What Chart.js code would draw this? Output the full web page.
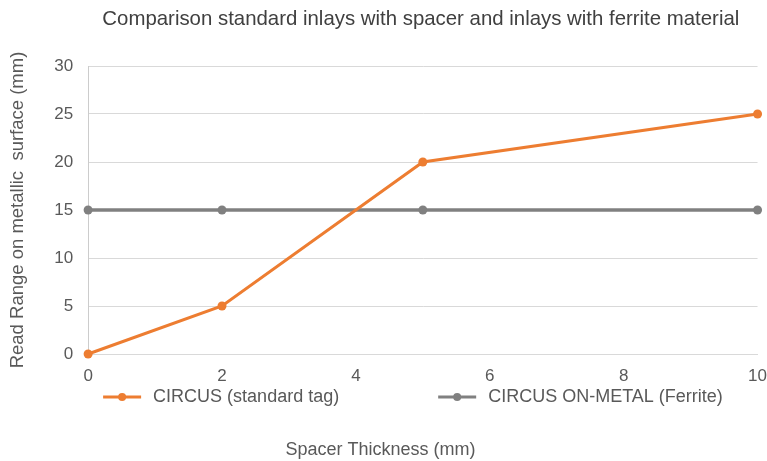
<!DOCTYPE html>
<html>
<head>
<meta charset="utf-8">
<script src="https://cdn.jsdelivr.net/npm/chart.js@4.4.0/dist/chart.umd.min.js"></script>
<style>
  html, body { margin: 0; padding: 0; background: #fff; }
  #wrap { width: 767px; height: 461px; }
</style>
</head>
<body>
<div id="wrap"><canvas id="chart"></canvas></div>
<script>
const chartTitle = 'Comparison standard inlays with spacer and inlays with ferrite material';
const xTitle = 'Spacer Thickness (mm)';
const yTitle = 'Read Range on metallic  surface (mm)';

const spacerThickness = [0, 2, 5, 10];
const standardTag = [0, 5, 20, 25];
const ferriteTag = [15, 15, 15, 15];

const seriesNames = ['CIRCUS (standard tag)', 'CIRCUS ON-METAL (Ferrite)'];
const seriesColors = ['#ed7d31', '#808080'];

const fontFamily = '"Liberation Sans", Arial, sans-serif';
const textColor = '#595959';

const toPoints = (values) => values.map((v, i) => ({ x: spacerThickness[i], y: v }));

// title over the plot, legend and x title underneath it
const textPlugin = {
  id: 'chartTexts',
  afterDraw(chart) {
    const { ctx, chartArea } = chart;
    ctx.save();
    ctx.textBaseline = 'middle';

    ctx.font = '20.4px ' + fontFamily;
    ctx.fillStyle = '#404040';
    ctx.textAlign = 'center';
    ctx.fillText(chartTitle, (chartArea.left + chartArea.right) / 2 - 2, 19);

    ctx.font = '18px ' + fontFamily;
    ctx.fillStyle = textColor;
    ctx.fillText(xTitle, chart.width / 2 - 3, 450);

    // legend row
    ctx.textAlign = 'left';
    const y = chartArea.bottom + 43;
    let x = chartArea.left + 15;
    chart.data.datasets.forEach((ds) => {
      ctx.strokeStyle = ds.borderColor;
      ctx.lineWidth = 3;
      ctx.beginPath();
      ctx.moveTo(x, y);
      ctx.lineTo(x + 38, y);
      ctx.stroke();
      ctx.fillStyle = ds.borderColor;
      ctx.beginPath();
      ctx.arc(x + 19, y, 4, 0, Math.PI * 2);
      ctx.fill();
      ctx.fillStyle = textColor;
      ctx.fillText(ds.label, x + 50, y);
      x += 50 + ctx.measureText(ds.label).width + 99;
    });
    ctx.restore();
  }
};

new Chart(document.getElementById('chart'), {
  type: 'line',
  data: {
    datasets: [
      {
        label: seriesNames[0],
        data: toPoints(standardTag),
        borderColor: seriesColors[0],
        backgroundColor: seriesColors[0],
        borderWidth: 3,
        pointRadius: 4.5,
        pointBorderWidth: 0,
        pointHoverRadius: 4.5,
        tension: 0,
        clip: false
      },
      {
        label: seriesNames[1],
        data: toPoints(ferriteTag),
        borderColor: seriesColors[1],
        backgroundColor: seriesColors[1],
        borderWidth: 3.5,
        pointRadius: 4.5,
        pointBorderWidth: 0,
        pointHoverRadius: 4.5,
        tension: 0,
        clip: false
      }
    ]
  },
  options: {
    responsive: true,
    maintainAspectRatio: false,
    animation: false,
    layout: { padding: { top: 66, left: 3, right: 0, bottom: 74.6 } },
    plugins: {
      legend: { display: false },
      title: { display: false },
      tooltip: { enabled: false }
    },
    scales: {
      x: {
        type: 'linear',
        min: 0,
        max: 10,
        ticks: {
          stepSize: 2,
          padding: 0,
          color: textColor,
          font: { family: fontFamily, size: 17 }
        },
        grid: { display: false, drawTicks: true, tickLength: 12 },
        border: { display: true, color: '#d9d9d9', width: 1 },
        title: { display: false }
      },
      y: {
        min: 0,
        max: 30,
        ticks: {
          stepSize: 5,
          padding: 15,
          color: textColor,
          font: { family: fontFamily, size: 17 }
        },
        grid: { color: '#d9d9d9', drawTicks: false },
        border: { display: true, color: '#cccccc', width: 1 },
        title: {
          display: true,
          text: yTitle,
          color: textColor,
          font: { family: fontFamily, size: 18.5 },
          padding: { top: 4, bottom: 10 }
        }
      }
    }
  },
  plugins: [textPlugin]
});
</script>
</body>
</html>
